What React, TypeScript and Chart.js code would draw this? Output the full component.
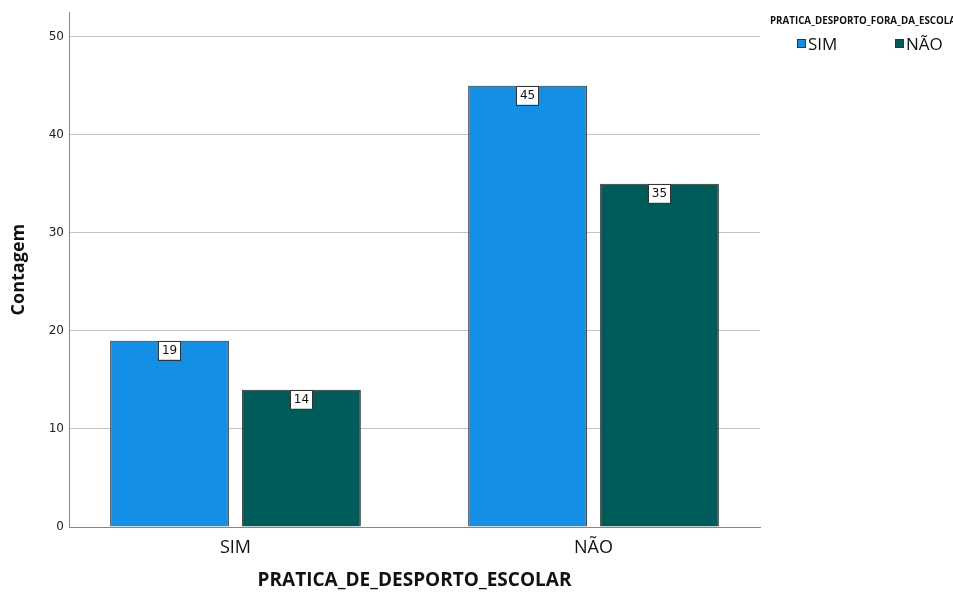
import React, { useEffect, useRef } from "react";
import { Chart, registerables } from "chart.js";

Chart.register(...registerables);

const categories = ["SIM", "NÃO"];
const seriesNames = ["SIM", "NÃO"];
const seriesSIM = [19, 45];
const seriesNAO = [14, 35];
const yTickValues = [0, 10, 20, 30, 40, 50];
const xTitle = "PRATICA_DE_DESPORTO_ESCOLAR";
const yTitle = "Contagem";
const legendTitle = "PRATICA_DESPORTO_FORA_DA_ESCOLA";
const colors = ["#1390E6", "#005C5A"];

const overlayPlugin = {
  id: "overlay",
  afterDatasetsDraw(chart: any) {
    const ctx = chart.ctx;
    ctx.save();
    ctx.font = "12px 'DejaVu Sans'";
    ctx.textAlign = "center";
    ctx.textBaseline = "middle";
    chart.data.datasets.forEach((ds: any, di: number) => {
      const meta = chart.getDatasetMeta(di);
      meta.data.forEach((el: any, i: number) => {
        const txt = String(ds.data[i].y);
        const w = ctx.measureText(txt).width + 7;
        const h = 19;
        const x = el.x - w / 2;
        const y = el.y;
        ctx.fillStyle = "#ffffff";
        ctx.fillRect(x, y, w, h);
        ctx.strokeStyle = "#333333";
        ctx.lineWidth = 1;
        ctx.strokeRect(Math.round(x) + 0.5, Math.round(y) + 0.5, Math.round(w), h);
        ctx.fillStyle = "#111111";
        ctx.fillText(txt, el.x, y + h / 2 + 1);
      });
    });
    ctx.restore();
  },
  afterDraw(chart: any) {
    const ctx = chart.ctx;
    const area = chart.chartArea;
    ctx.save();
    ctx.font = "bold 18px 'Open Sans'";
    ctx.fillStyle = "#111111";
    ctx.textAlign = "center";
    ctx.textBaseline = "middle";
    ctx.translate(19, (area.top + area.bottom) / 2);
    ctx.rotate(-Math.PI / 2);
    ctx.fillText(yTitle, 0, 0);
    ctx.restore();
    ctx.save();
    ctx.font = "bold 19px 'Open Sans'";
    ctx.fillStyle = "#111111";
    ctx.textAlign = "center";
    ctx.textBaseline = "middle";
    ctx.fillText(xTitle, (area.left + area.right) / 2, 581);
    ctx.font = "bold 10px 'Open Sans'";
    ctx.textAlign = "left";
    ctx.fillText(legendTitle, 770, 21, 186);
    const items = [
      { x: 797, label: seriesNames[0], color: colors[0] },
      { x: 895, label: seriesNames[1], color: colors[1] },
    ];
    ctx.font = "17px 'Open Sans'";
    items.forEach((it) => {
      ctx.fillStyle = it.color;
      ctx.fillRect(it.x, 39, 9, 9);
      ctx.strokeStyle = "#333333";
      ctx.lineWidth = 1;
      ctx.strokeRect(it.x + 0.5, 39.5, 8, 8);
      ctx.fillStyle = "#111111";
      ctx.fillText(it.label, it.x + 11, 45);
    });
    ctx.restore();
  },
};

export default function App() {
  const ref = useRef<HTMLCanvasElement | null>(null);
  useEffect(() => {
    if (!ref.current) return;
    const mk = (vals: number[]) => vals.map((v, i) => ({ x: i, y: v }));
    const chart = new Chart(ref.current, {
      type: "bar",
      data: {
        datasets: [
          {
            label: seriesNames[0],
            data: mk(seriesSIM),
            backgroundColor: colors[0],
            borderColor: "#2a2a2a",
            borderWidth: 1,
            categoryPercentage: 0.737,
            barPercentage: 0.9,
          },
          {
            label: seriesNames[1],
            data: mk(seriesNAO),
            backgroundColor: colors[1],
            borderColor: "#2a2a2a",
            borderWidth: 1,
            categoryPercentage: 0.737,
            barPercentage: 0.9,
          },
        ],
      } as any,
      options: {
        animation: false,
        responsive: false,
        maintainAspectRatio: false,
        layout: { padding: { top: 12, right: 193, left: 0, bottom: 0 } },
        plugins: { legend: { display: false }, tooltip: { enabled: false } },
        scales: {
          x: {
            type: "linear",
            offset: false,
            bounds: "data",
            grace: 0,
            min: -0.465,
            max: 1.465,
            afterBuildTicks: (axis: any) => {
              axis.ticks = categories.map((_, i) => ({ value: i }));
            },
            afterFit: (axis: any) => {
              axis.height = 66;
            },
            grid: { display: false, drawTicks: false, offset: false },
            border: { display: true, color: "#888888", width: 1 },
            ticks: {
              padding: 10,
              color: "#111111",
              font: { family: "'Open Sans'", size: 18 },
              callback: (v: any) => categories[v] ?? "",
            },
          },
          y: {
            min: 0,
            max: 52.5,
            afterBuildTicks: (axis: any) => {
              axis.ticks = yTickValues.map((v) => ({ value: v }));
            },
            afterFit: (axis: any) => {
              axis.width = 69;
            },
            grid: { color: "#c4c4c4", drawTicks: false },
            border: { display: true, color: "#888888", width: 1 },
            ticks: {
              padding: 5,
              color: "#222222",
              font: { family: "'DejaVu Sans'", size: 12 },
            },
          },
        },
      } as any,
      plugins: [overlayPlugin],
    });
    return () => chart.destroy();
  }, []);
  return (
    <div style={{ position: "fixed", left: 0, top: 0, width: 953, height: 593, background: "#fff" }}>
      <canvas ref={ref} width={953} height={593} style={{ width: 953, height: 593 }} />
    </div>
  );
}
